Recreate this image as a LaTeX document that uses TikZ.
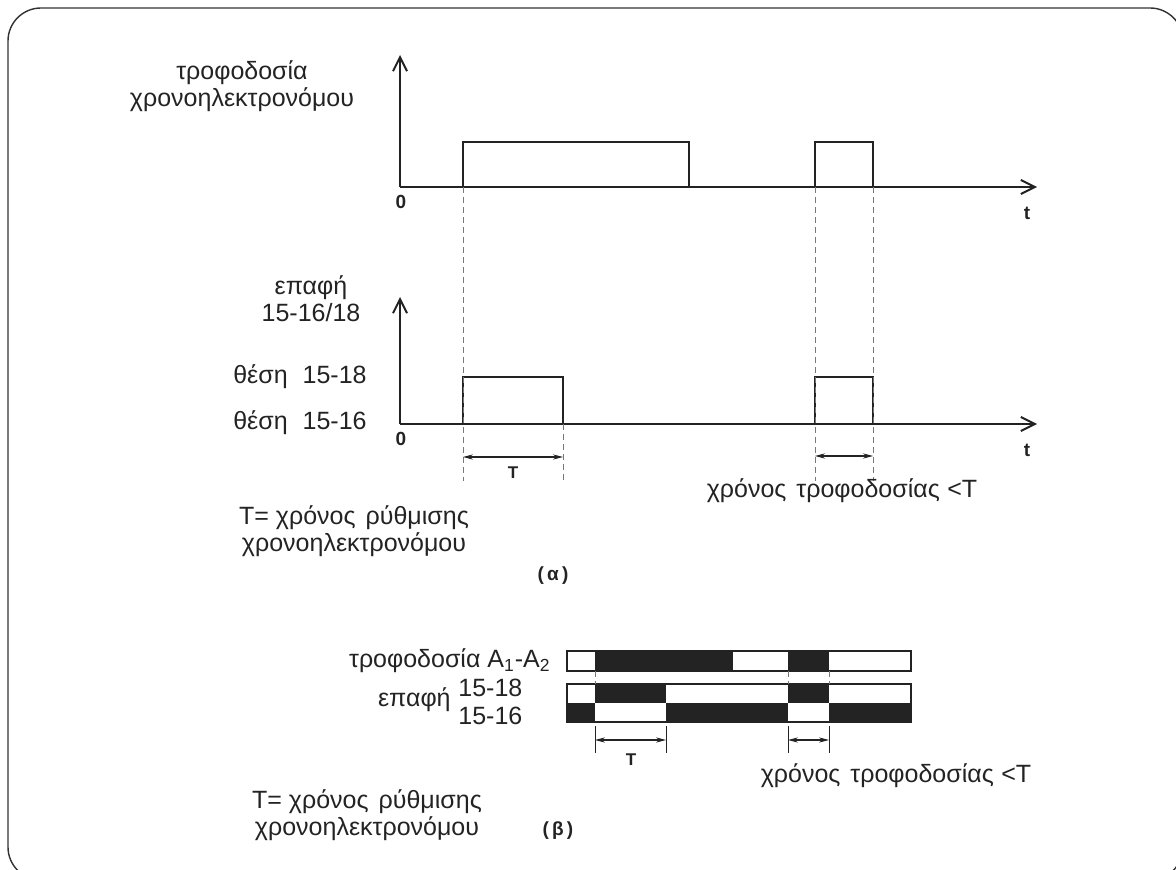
\documentclass[tikz,border=0pt]{standalone}
\usepackage{fontspec}
\setmainfont{Liberation Sans}
\usepackage{xcolor}
\usetikzlibrary{arrows.meta,positioning,calc}
\definecolor{inkgray}{RGB}{35,35,35}
\definecolor{framegray}{RGB}{50,50,50}
\definecolor{dashgray}{RGB}{120,120,120}

\tikzset{
  axisline/.style={inkgray,line width=1.2pt,-{Straight Barb[length=7pt,width=7pt,line width=1pt]}},
  pulseline/.style={inkgray,line width=1.2pt},
  guide/.style={dashgray,line width=0.4pt,dash pattern=on 3pt off 2pt},
  dimarrow/.style={inkgray,line width=0.6pt,{Stealth[length=5pt,width=2.6pt]}-{Stealth[length=5pt,width=2.6pt]}},
  lbl/.style={text=inkgray,inner sep=0pt,align=center},
  small/.style={text=inkgray,inner sep=0pt,font=\fontsize{9.5}{11}\selectfont\bfseries},
  tiny/.style={text=inkgray,inner sep=0pt,font=\fontsize{8.5}{10}\selectfont\bfseries},
}

\begin{document}
\begin{tikzpicture}[x=0.5pt,y=-0.5pt,font=\fontsize{12.5}{13.5}\selectfont]
  \useasboundingbox (0,0) rectangle (1176,870);
  % --- frame ---
  \draw[framegray,line width=0.7pt,rounded corners=16.5pt] (8,8) rectangle (1183,880);
  % --- geometry: axis origin x, baselines of graphs (a) ---
  \def\xo{400} \def\xe{1037}
  \def\yA{187} \def\yB{424}
  \def\hA{142} \def\hB{377}
  % ================= (a) upper graph =================
  \coordinate (oA) at (\xo,\yA);
  \coordinate (upA) at (\xo,55);
  \coordinate (endA) at (\xe,\yA);
  \draw[axisline] (oA) -- (upA);
  \draw[axisline] (oA) -- (endA);
  % supply pulses
  \draw[pulseline] (463,\yA) |- (689,\hA) -- (689,\yA);
  \draw[pulseline] (815,\yA) |- (873,\hA) -- (873,\yA);
  \node[small] (zeroA) at (401,202) {0};
  \node[small] (tA) at (1027,213) {t};
  \node[lbl] (supply) at (242,86) {τροφοδοσία\\χρονοηλεκτρονόμου};
  % ================= (a) lower graph =================
  \coordinate (oB) at (\xo,\yB);
  \coordinate (upB) at (\xo,297);
  \coordinate (endB) at (\xe,\yB);
  \draw[axisline] (oB) -- (upB);
  \draw[axisline] (oB) -- (endB);
  % contact pulses
  \draw[pulseline] (463,\yB) |- (563,\hB) -- (563,\yB);
  \draw[pulseline] (815,\yB) |- (873,\hB) -- (873,\yB);
  \node[small] (zeroB) at (401,439) {0};
  \node[small] (tB) at (1027,450) {t};
  \node[lbl] (contact) at (311,299) {επαφή\\15-16/18};
  \node[lbl,anchor=east] (pos18) at (367,377) {θέση\hspace{0.6em}15-18};
  \node[lbl,anchor=east] (pos16) at (367,423) {θέση\hspace{0.6em}15-16};
  % guide lines
  \foreach \x in {463,815,873}{
    \draw[guide] (\x,\yA) -- (\x,481);}
  \draw[guide] (563,\yB) -- (563,481);
  % time marks
  \coordinate (tsL) at (463,457); \coordinate (tsR) at (563,457);
  \draw[dimarrow] (tsL) -- (tsR);
  \node[tiny] (Ta) at (513,473) {T};
  \coordinate (tpL) at (815,456); \coordinate (tpR) at (873,456);
  \draw[dimarrow] (tpL) -- (tpR);
  \node[lbl] (setA) at (354,531) {T= χρόνος\hspace{0.4em}ρύθμισης\\χρονοηλεκτρονόμου};
  \node[lbl] (supA) at (842,491) {χρόνος\hspace{0.4em}τροφοδοσίας\hspace{0.3em}<T};
  \node[small] (capA) at (553,576) {(\,α\,)};
  % ================= (b) bar diagram =================
  \def\bl{567} \def\br{911}
  % supply bar
  \foreach \a/\b in {595/733,788/829}{
    \fill[inkgray] (\a,651) rectangle (\b,671);}
  \draw[inkgray,line width=0.8pt] (\bl,651) rectangle (\br,671);
  \node[lbl,anchor=east] (supB) at (551,661) {τροφοδοσία A\textsubscript{1}-A\textsubscript{2}};
  % contact bar, 15-18 on top, 15-16 below
  \foreach \a/\b in {595/666,788/829}{
    \fill[inkgray] (\a,684) rectangle (\b,703);}
  \foreach \a/\b in {567/595,666/788,829/911}{
    \fill[inkgray] (\a,703) rectangle (\b,722);}
  \draw[inkgray,line width=0.8pt] (\bl,684) rectangle (\br,722);
  \node[lbl,anchor=east] (contB) at (451,700) {επαφή};
  \node[lbl,anchor=west] (c18) at (458,688) {15-18};
  \node[lbl,anchor=west] (c16) at (458,716) {15-16};
  \foreach \x in {595,788,829}{
    \draw[guide] (\x,671) -- (\x,684);}
  % time marks
  \foreach \x in {595,666,788,829}{
    \draw[inkgray,line width=0.4pt] (\x,726) -- (\x,753);}
  \coordinate (bsL) at (595,740); \coordinate (bsR) at (666,740);
  \draw[dimarrow] (bsL) -- (bsR);
  \node[tiny] (Tb) at (631,760) {T};
  \coordinate (bpL) at (788,740); \coordinate (bpR) at (829,740);
  \draw[dimarrow] (bpL) -- (bpR);
  \node[lbl] (setB) at (367,815) {T= χρόνος\hspace{0.4em}ρύθμισης\\χρονοηλεκτρονόμου};
  \node[lbl] (supC) at (896,776) {χρόνος\hspace{0.4em}τροφοδοσίας\hspace{0.3em}<T};
  \node[small] (capB) at (558,831) {(\,β\,)};
\end{tikzpicture}
\end{document}
